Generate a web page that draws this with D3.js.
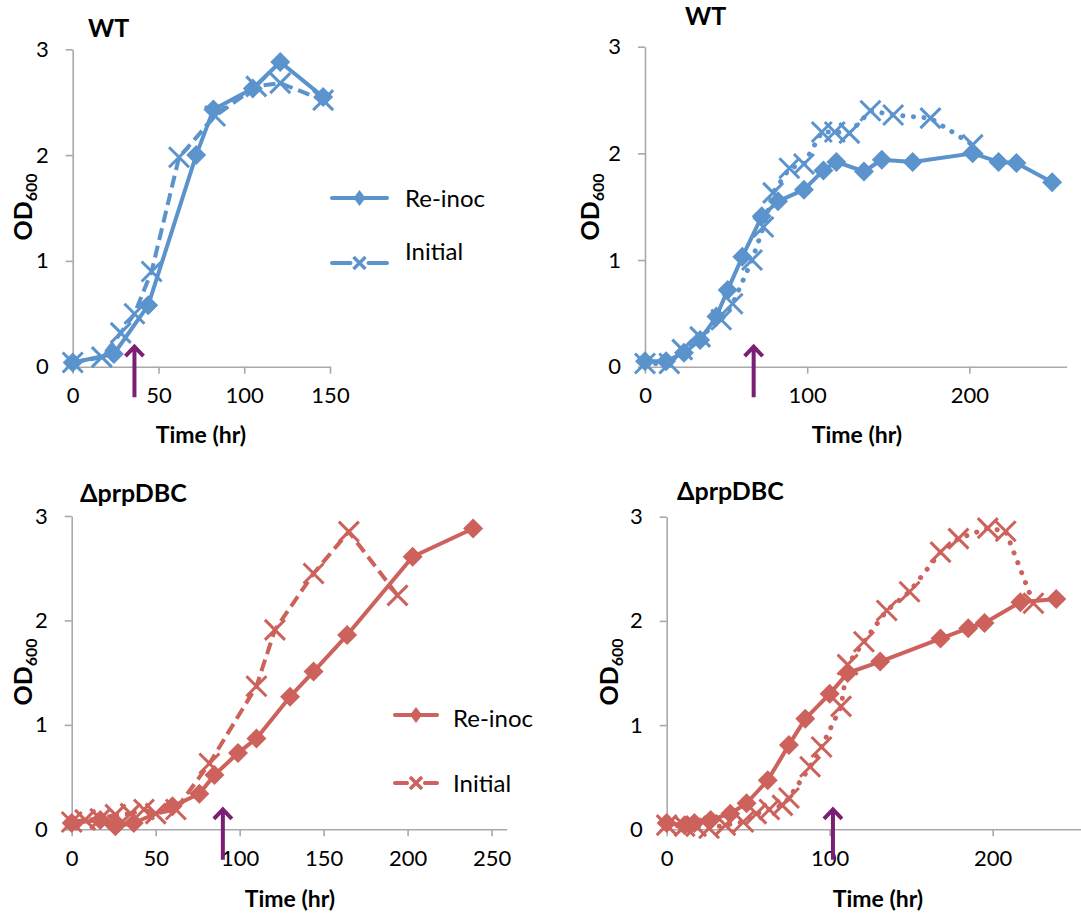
<!DOCTYPE html>
<html>
<head>
<meta charset="utf-8">
<script src="https://cdn.jsdelivr.net/npm/d3@7"></script>
<style>
  html, body { margin: 0; padding: 0; background: #fff; }
  svg { display: block; }
  text { font-family: Lato, "Open Sans", "DejaVu Sans", sans-serif; fill: #000; }
</style>
</head>
<body>
<svg id="chart" width="1081" height="913"></svg>
<script>
// Growth curves: OD600 over time, re-inoculated vs. initial cultures.

// WT, first experiment
const timeA_reinoc = [0, 24, 44, 72, 82, 105, 121, 146];
const odA_reinoc   = [0.04, 0.12, 0.58, 2.0, 2.43, 2.63, 2.88, 2.55];
const timeA_init   = [0, 17, 28, 36, 46, 62, 83, 107, 121, 146];
const odA_init     = [0.04, 0.09, 0.32, 0.5, 0.9, 1.98, 2.37, 2.65, 2.68, 2.52];

// WT, second experiment
const timeB_reinoc = [0, 13, 24, 34, 44, 51, 60, 72, 82, 98, 110, 118, 135, 146, 165, 202, 218, 229, 251];
const odB_reinoc   = [0.05, 0.05, 0.13, 0.25, 0.47, 0.72, 1.03, 1.41, 1.55, 1.66, 1.84, 1.92, 1.83, 1.94, 1.92, 2.0, 1.92, 1.91, 1.73];
const timeB_init   = [0, 15, 23, 34, 47, 54, 66, 73, 79, 89, 98, 109, 117, 126, 139, 153, 176, 202];
const odB_init     = [0.03, 0.03, 0.16, 0.28, 0.44, 0.59, 1.0, 1.31, 1.63, 1.86, 1.9, 2.2, 2.2, 2.19, 2.4, 2.36, 2.33, 2.08];

// ΔprpDBC, first experiment
const timeC_reinoc = [0, 17, 26, 37, 60, 76, 85, 99, 110, 130, 144, 164, 203, 239];
const odC_reinoc   = [0.06, 0.09, 0.03, 0.06, 0.22, 0.34, 0.52, 0.73, 0.87, 1.27, 1.51, 1.86, 2.61, 2.88];
const timeC_init   = [0, 8, 17, 26, 35, 43, 50, 62, 82, 110, 121, 144, 165, 194];
const odC_init     = [0.07, 0.09, 0.1, 0.14, 0.15, 0.19, 0.15, 0.19, 0.63, 1.37, 1.91, 2.45, 2.85, 2.24];

// ΔprpDBC, second experiment
const timeD_reinoc = [0, 11, 17, 27, 39, 49, 62, 75, 85, 100, 111, 131, 168, 185, 195, 217, 239];
const odD_reinoc   = [0.06, 0.04, 0.06, 0.09, 0.15, 0.25, 0.47, 0.81, 1.06, 1.3, 1.5, 1.61, 1.83, 1.93, 1.98, 2.18, 2.21];
const timeD_init   = [0, 11, 18, 26, 36, 47, 55, 63, 71, 75, 88, 95, 107, 111, 121, 135, 149, 168, 179, 197, 208, 225];
const odD_init     = [0.04, 0.03, 0.03, 0.01, 0.04, 0.07, 0.15, 0.19, 0.23, 0.3, 0.6, 0.79, 1.18, 1.58, 1.8, 2.1, 2.28, 2.66, 2.79, 2.89, 2.86, 2.17];

// Panel titles, axis ticks, legend labels and re-inoculation times (arrows)
const titles = ["WT", "WT", "\u0394prpDBC", "\u0394prpDBC"];
const xTicksA = [0, 50, 100, 150];
const xTicksB = [0, 100, 200];
const xTicksC = [0, 50, 100, 150, 200, 250];
const xTicksD = [0, 100, 200];
const yTicks = [0, 1, 2, 3];
const seriesNames = ["Re-inoc", "Initial"];
const arrowTimes = [36, 67, 90, 102];

const BLUE = "#5b93cc", RED = "#cc625b", PURPLE = "#7a1f73", AXIS = "#a9a9a9";

const zip = (t, v) => t.map((d, i) => ({ t: d, v: v[i] }));

const panels = [
  { title: titles[0], color: BLUE, dash: "12 6", xDomain: [0, 150], xRange: [72.7, 330], yRange: [366.7, 49.3],
    xTicks: xTicksA, reinoc: zip(timeA_reinoc, odA_reinoc), init: zip(timeA_init, odA_init), arrow: arrowTimes[0],
    titlePos: [88, 37], yLabel: [32, 207], xLabel: [201, 443],
    legend: { x0: 332, x1: 387, y: [198, 263], tx: 405, ty: [207, 260] } },
  { title: titles[1], color: BLUE, dash: "dot", xDomain: [0, 260], xRange: [645, 1066.7], yRange: [366.7, 46.7],
    xTicks: xTicksB, reinoc: zip(timeB_reinoc, odB_reinoc), init: zip(timeB_init, odB_init), arrow: arrowTimes[1],
    titlePos: [685, 25], yLabel: [599, 207], xLabel: [857, 443] },
  { title: titles[2], color: RED, dash: "12 6", xDomain: [0, 259], xRange: [71.7, 506.7], yRange: [829.3, 516],
    xTicks: xTicksC, reinoc: zip(timeC_reinoc, odC_reinoc), init: zip(timeC_init, odC_init), arrow: arrowTimes[2],
    titlePos: [80, 502], yLabel: [32, 672], xLabel: [290, 907],
    legend: { x0: 395, x1: 437, y: [715, 783], tx: 453, ty: [727, 792] } },
  { title: titles[3], color: RED, dash: "dot", xDomain: [0, 254.5], xRange: [666.7, 1081.5], yRange: [829.3, 516.7],
    xTicks: xTicksD, reinoc: zip(timeD_reinoc, odD_reinoc), init: zip(timeD_init, odD_init), arrow: arrowTimes[3],
    titlePos: [677, 500], yLabel: [618, 672], xLabel: [878, 907] }
];

const svg = d3.select("#chart");

const diamondPath = (r) => `M0,${-r}L${r},0L0,${r}L${-r},0Z`;
const crossPath = (r) => `M${-r},${-r}L${r},${r}M${-r},${r}L${r},${-r}`;

function styleDash(sel, dash) {
  if (dash === "dot") {
    sel.attr("stroke-dasharray", "0.1 10.5").attr("stroke-linecap", "round").attr("stroke-width", 5);
  } else {
    sel.attr("stroke-dasharray", dash).attr("stroke-linecap", "butt").attr("stroke-width", 4);
  }
}

panels.forEach(p => {
  const g = svg.append("g");
  const x = d3.scaleLinear().domain(p.xDomain).range(p.xRange);
  const y = d3.scaleLinear().domain([0, 3]).range(p.yRange);

  // Axes
  const xAxis = d3.axisBottom(x).tickValues(p.xTicks).tickFormat(d3.format("d"))
    .tickSize(7).tickPadding(14).tickSizeOuter(0);
  const gx = g.append("g").attr("transform", `translate(0,${y(0)})`).call(xAxis);
  const yAxis = d3.axisLeft(y).tickValues(yTicks).tickFormat(d3.format("d"))
    .tickSize(7).tickPadding(17).tickSizeOuter(0);
  const gy = g.append("g").attr("transform", `translate(${x(0)},0)`).call(yAxis);
  [gx, gy].forEach(a => {
    a.select(".domain").attr("stroke", AXIS).attr("stroke-width", 1.6);
    a.selectAll(".tick line").attr("stroke", AXIS).attr("stroke-width", 1.6);
    a.selectAll(".tick text").attr("font-size", 22).attr("font-family", "Lato, 'Open Sans', sans-serif").attr("fill", "#000");
  });
  gx.selectAll(".tick text").attr("dy", "0.71em");

  // Series lines and markers
  const line = d3.line().x(d => x(d.t)).y(d => y(d.v));
  g.append("path").datum(p.reinoc).attr("d", line)
    .attr("fill", "none").attr("stroke", p.color).attr("stroke-width", 4).attr("stroke-linejoin", "round");
  g.selectAll(".dia").data(p.reinoc).join("path").attr("class", "dia")
    .attr("transform", d => `translate(${x(d.t)},${y(d.v)})`)
    .attr("d", diamondPath(10)).attr("fill", p.color);

  const initLine = g.append("path").datum(p.init).attr("d", line)
    .attr("fill", "none").attr("stroke", p.color).attr("stroke-linejoin", "round");
  styleDash(initLine, p.dash);
  g.selectAll(".crs").data(p.init).join("path").attr("class", "crs")
    .attr("transform", d => `translate(${x(d.t)},${y(d.v)})`)
    .attr("d", crossPath(10)).attr("fill", "none").attr("stroke", p.color).attr("stroke-width", 3);

  // Re-inoculation arrow
  const ax = x(p.arrow), tip = y(0) - 21.5, tail = y(0) + 30.5;
  g.append("path")
    .attr("d", `M${ax},${tail}L${ax},${tip + 1}M${ax - 9},${tip + 11}L${ax},${tip + 1.5}L${ax + 9},${tip + 11}`)
    .attr("fill", "none").attr("stroke", PURPLE).attr("stroke-width", 4).attr("stroke-linejoin", "miter");

  // Panel title
  g.append("text").attr("x", p.titlePos[0]).attr("y", p.titlePos[1])
    .attr("font-size", 25).attr("font-weight", "bold").text(p.title);

  // Axis titles
  g.append("text").attr("x", p.xLabel[0]).attr("y", p.xLabel[1])
    .attr("text-anchor", "middle").attr("font-size", 23).attr("font-weight", "bold").text("Time (hr)");

  const yl = g.append("text")
    .attr("transform", `translate(${p.yLabel[0]},${p.yLabel[1]}) rotate(-90)`)
    .attr("text-anchor", "middle").attr("font-size", 25).attr("font-weight", "bold");
  yl.append("tspan").text("OD");
  yl.append("tspan").attr("font-size", 16).attr("dy", 5).text("600");

  // Legend
  if (p.legend) {
    const L = p.legend;
    const cx = (L.x0 + L.x1) / 2;
    // Re-inoc entry
    g.append("line").attr("x1", L.x0).attr("x2", L.x1).attr("y1", L.y[0]).attr("y2", L.y[0])
      .attr("stroke", p.color).attr("stroke-width", 4).attr("stroke-linecap", "round");
    g.append("path").attr("transform", `translate(${cx},${L.y[0]})`).attr("d", "M0,-8L6,0L0,8L-6,0Z").attr("fill", p.color);
    g.append("text").attr("x", L.tx).attr("y", L.ty[0]).attr("font-size", 24).text(seriesNames[0]);
    // Initial entry
    g.append("line").attr("x1", L.x0).attr("x2", cx - 9).attr("y1", L.y[1]).attr("y2", L.y[1])
      .attr("stroke", p.color).attr("stroke-width", 4).attr("stroke-linecap", "round");
    g.append("line").attr("x1", cx + 9).attr("x2", L.x1).attr("y1", L.y[1]).attr("y2", L.y[1])
      .attr("stroke", p.color).attr("stroke-width", 4).attr("stroke-linecap", "round");
    g.append("path").attr("transform", `translate(${cx},${L.y[1]})`).attr("d", crossPath(6))
      .attr("fill", "none").attr("stroke", p.color).attr("stroke-width", 3.5);
    g.append("text").attr("x", L.tx).attr("y", L.ty[1]).attr("font-size", 24).text(seriesNames[1]);
  }
});
</script>
</body>
</html>
